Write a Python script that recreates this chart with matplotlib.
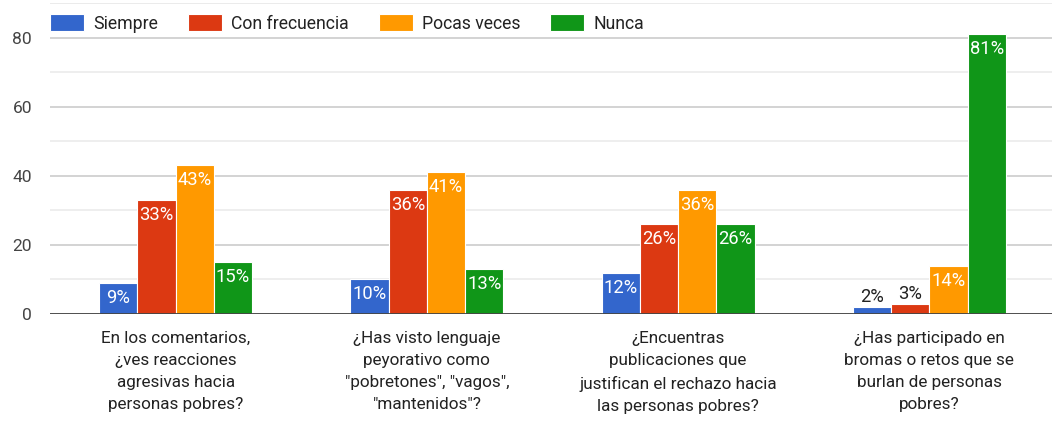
import numpy as np
import matplotlib
matplotlib.use("Agg")
import matplotlib.pyplot as plt
from matplotlib.ticker import MultipleLocator
from matplotlib.transforms import offset_copy

plt.rcParams['font.family'] = ['Roboto', 'DejaVu Sans']

categories = [
    "En los comentarios,\n¿ves reacciones\nagresivas hacia\npersonas pobres?",
    "¿Has visto lenguaje\npeyorativo como\n\"pobretones\", \"vagos\",\n\"mantenidos\"?",
    "¿Encuentras\npublicaciones que\njustifican el rechazo hacia\nlas personas pobres?",
    "¿Has participado en\nbromas o retos que se\nburlan de personas\npobres?",
]
series_names = ["Siempre", "Con frecuencia", "Pocas veces", "Nunca"]
siempre = [9, 10, 12, 2]
con_frecuencia = [33, 36, 26, 3]
pocas_veces = [43, 41, 36, 14]
nunca = [15, 13, 26, 81]
pct_labels = [
    ["9%", "10%", "12%", "2%"],
    ["33%", "36%", "26%", "3%"],
    ["43%", "41%", "36%", "14%"],
    ["15%", "13%", "26%", "81%"],
]
colors = ["#3366CC", "#DC3912", "#FF9900", "#109618"]

W, H = 1052, 423
fig = plt.figure(figsize=(W / 100, H / 100), dpi=100)
ax = fig.add_axes([50 / W, (H - 314) / H, 1 - 50 / W, (314 - 3) / H])

x = np.arange(len(categories))
width = 0.152
values = [siempre, con_frecuencia, pocas_veces, nunca]
for i, (vals, name, col) in enumerate(zip(values, series_names, colors)):
    pos = x + (i - 1.5) * width
    ax.bar(pos, vals, width, color=col, edgecolor="white", linewidth=0.8,
           label=name, zorder=3)
    # labels go inside the bar, or above it when the bar is too short
    for px, v, lab in zip(pos, vals, pct_labels[i]):
        if v >= 6:
            tr = offset_copy(ax.transData, fig=fig, x=0, y=-6, units="dots")
            ax.text(px, v, lab, ha="center", va="top", color="white",
                    fontsize=13.2, transform=tr, zorder=4)
        else:
            tr = offset_copy(ax.transData, fig=fig, x=0, y=1, units="dots")
            ax.text(px, v, lab, ha="center", va="bottom", color="#222222",
                    fontsize=13.2, transform=tr, zorder=4)

ax.set_xlim(-0.5, 3.488)
ax.set_ylim(0, 90)
ax.yaxis.set_minor_locator(MultipleLocator(10))
ax.set_yticks([0, 20, 40, 60, 80])
ax.grid(axis="y", which="major", color="#cccccc", linewidth=1.2, zorder=0)
ax.grid(axis="y", which="minor", color="#ebebeb", linewidth=1.2, zorder=0)
ax.axhline(90, color="#ebebeb", linewidth=1.2, zorder=0)
ax.axhline(0, color="#444444", linewidth=1.3, zorder=5)
for s in ax.spines.values():
    s.set_visible(False)
ax.tick_params(axis="y", which="both", length=0, labelsize=12.5,
               labelcolor="#444444", pad=13)
ax.set_xticks(x)
ax.set_xticklabels(categories, fontsize=12.3, color="#222222",
                   linespacing=1.6)
ax.tick_params(axis="x", length=0, pad=12)

fig.legend(loc="center left", bbox_to_anchor=(50 / W, 1 - 23.5 / H),
           ncol=4, frameon=False, fontsize=12.7, handlelength=1.93,
           handleheight=1.08, handletextpad=0.51, columnspacing=1.7,
           borderpad=0, borderaxespad=0, labelcolor="#222222")

fig.savefig("out.png", dpi=100)
